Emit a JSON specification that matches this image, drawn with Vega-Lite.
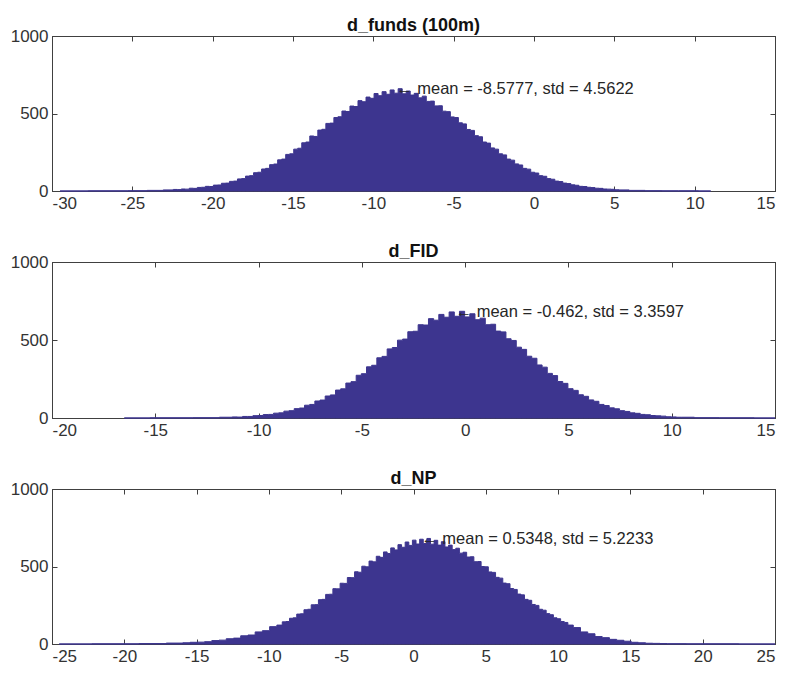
{
  "$schema": "https://vega.github.io/schema/vega-lite/v6.json",
  "padding": {"left": 9, "top": 16, "right": 0, "bottom": 0},
  "spacing": 30,
  "background": "white",
  "config": {
    "view": {"stroke": "#404040", "strokeWidth": 1},
    "axis": {"grid": false, "domainColor": "#404040", "tickColor": "#404040", "tickSize": -5, "labelFont": "Liberation Sans", "labelFontSize": 17, "labelColor": "#333333", "labelPadding": 9,
      "labelExpr": "datum.value < 0 ? '-' + abs(datum.value) : '' + datum.value"},
    "title": {"font": "Liberation Sans", "fontSize": 18, "fontWeight": "bold", "color": "#111111", "offset": -8, "anchor": "middle"}
  },
  "datasets": {
    "f": [{"x":-29.5,"c":0},{"x":-26,"c":1},{"x":-24.58,"c":2},{"x":-23.58,"c":4},
      {"x":-22.58,"c":7},{"x":-22.33,"c":10},{"x":-22.08,"c":9},{"x":-21.83,"c":13},{"x":-21.58,"c":12},{"x":-21.33,"c":18},{"x":-21.08,"c":17},{"x":-20.83,"c":23},{"x":-20.58,"c":24},{"x":-20.33,"c":30},{"x":-20.08,"c":29},{"x":-19.83,"c":38},{"x":-19.58,"c":39},{"x":-19.33,"c":50},{"x":-19.08,"c":51},{"x":-18.83,"c":62},{"x":-18.58,"c":64},{"x":-18.33,"c":78},{"x":-18.08,"c":80},{"x":-17.83,"c":96},{"x":-17.58,"c":99},{"x":-17.33,"c":118},{"x":-17.08,"c":121},{"x":-16.83,"c":142},{"x":-16.58,"c":146},{"x":-16.33,"c":170},{"x":-16.08,"c":174},{"x":-15.83,"c":201},{"x":-15.58,"c":206},{"x":-15.33,"c":236},{"x":-15.08,"c":240},{"x":-14.83,"c":270},{"x":-14.58,"c":276},{"x":-14.33,"c":311},{"x":-14.08,"c":316},{"x":-13.83,"c":355},{"x":-13.58,"c":352},{"x":-13.33,"c":393},{"x":-13.08,"c":398},{"x":-12.83,"c":436},{"x":-12.58,"c":438},{"x":-12.33,"c":474},{"x":-12.08,"c":479},{"x":-11.83,"c":516},{"x":-11.58,"c":513},{"x":-11.33,"c":548},{"x":-11.08,"c":545},{"x":-10.83,"c":583},{"x":-10.58,"c":576},{"x":-10.33,"c":606},{"x":-10.08,"c":598},{"x":-9.83,"c":629},{"x":-9.58,"c":615},{"x":-9.33,"c":641},{"x":-9.08,"c":624},{"x":-8.83,"c":652},{"x":-8.58,"c":631},{"x":-8.33,"c":660},{"x":-8.08,"c":627},{"x":-7.83,"c":645},{"x":-7.58,"c":619},{"x":-7.33,"c":630},{"x":-7.08,"c":601},{"x":-6.83,"c":612},{"x":-6.58,"c":578},{"x":-6.33,"c":580},{"x":-6.08,"c":549},{"x":-5.83,"c":550},{"x":-5.58,"c":515},{"x":-5.33,"c":512},{"x":-5.08,"c":478},{"x":-4.83,"c":474},{"x":-4.58,"c":440},{"x":-4.33,"c":433},{"x":-4.08,"c":397},{"x":-3.83,"c":391},{"x":-3.58,"c":357},{"x":-3.33,"c":350},{"x":-3.08,"c":316},{"x":-2.83,"c":309},{"x":-2.58,"c":278},{"x":-2.33,"c":270},{"x":-2.08,"c":240},{"x":-1.83,"c":233},{"x":-1.58,"c":206},{"x":-1.33,"c":199},{"x":-1.08,"c":175},{"x":-0.83,"c":168},{"x":-0.58,"c":146},{"x":-0.33,"c":141},{"x":-0.08,"c":121},{"x":0.17,"c":116},{"x":0.42,"c":99},{"x":0.67,"c":95},{"x":0.92,"c":80},{"x":1.17,"c":76},{"x":1.42,"c":64},{"x":1.67,"c":61},{"x":1.92,"c":51},{"x":2.17,"c":48},{"x":2.42,"c":40},{"x":2.67,"c":37},{"x":2.92,"c":30},{"x":3.17,"c":29},{"x":3.42,"c":24},{"x":3.67,"c":22},{"x":3.92,"c":18},{"x":4.17,"c":17},{"x":4.42,"c":13},{"x":4.67,"c":12},{"x":4.92,"c":11},{"x":5.17,"c":8},{"x":5.42,"c":7},
      {"x":6.42,"c":4},{"x":7.42,"c":2},{"x":8.5,"c":1},{"x":9.5,"c":1},{"x":11,"c":0}],
    "d": [{"x":-16.5,"c":0},{"x":-14,"c":1},{"x":-12.4,"c":2},
      {"x":-11.4,"c":5},{"x":-11.15,"c":7},{"x":-10.9,"c":6},{"x":-10.65,"c":10},{"x":-10.4,"c":10},{"x":-10.15,"c":15},{"x":-9.9,"c":16},{"x":-9.65,"c":22},{"x":-9.4,"c":23},{"x":-9.15,"c":31},{"x":-8.9,"c":33},{"x":-8.65,"c":44},{"x":-8.4,"c":47},{"x":-8.15,"c":60},{"x":-7.9,"c":64},{"x":-7.65,"c":82},{"x":-7.4,"c":87},{"x":-7.15,"c":109},{"x":-6.9,"c":115},{"x":-6.65,"c":141},{"x":-6.4,"c":148},{"x":-6.15,"c":179},{"x":-5.9,"c":187},{"x":-5.65,"c":224},{"x":-5.4,"c":233},{"x":-5.15,"c":274},{"x":-4.9,"c":284},{"x":-4.65,"c":328},{"x":-4.4,"c":338},{"x":-4.15,"c":386},{"x":-3.9,"c":395},{"x":-3.65,"c":443},{"x":-3.4,"c":452},{"x":-3.15,"c":499},{"x":-2.9,"c":506},{"x":-2.65,"c":553},{"x":-2.4,"c":556},{"x":-2.15,"c":598},{"x":-1.9,"c":596},{"x":-1.65,"c":637},{"x":-1.4,"c":627},{"x":-1.15,"c":664},{"x":-0.9,"c":646},{"x":-0.65,"c":680},{"x":-0.4,"c":652},{"x":-0.15,"c":684},{"x":0.1,"c":648},{"x":0.35,"c":668},{"x":0.6,"c":630},{"x":0.85,"c":640},{"x":1.1,"c":598},{"x":1.35,"c":601},{"x":1.6,"c":557},{"x":1.85,"c":552},{"x":2.1,"c":508},{"x":2.35,"c":497},{"x":2.6,"c":454},{"x":2.85,"c":440},{"x":3.1,"c":396},{"x":3.35,"c":383},{"x":3.6,"c":340},{"x":3.85,"c":326},{"x":4.1,"c":286},{"x":4.35,"c":272},{"x":4.6,"c":234},{"x":4.85,"c":222},{"x":5.1,"c":188},{"x":5.35,"c":177},{"x":5.6,"c":149},{"x":5.85,"c":139},{"x":6.1,"c":116},{"x":6.35,"c":107},{"x":6.6,"c":87},{"x":6.85,"c":80},{"x":7.1,"c":65},{"x":7.35,"c":59},{"x":7.6,"c":47},{"x":7.85,"c":42},{"x":8.1,"c":33},{"x":8.35,"c":30},{"x":8.6,"c":23},{"x":8.85,"c":21},{"x":9.1,"c":16},{"x":9.35,"c":14},{"x":9.6,"c":12},{"x":9.85,"c":8},{"x":10.1,"c":7},{"x":10.35,"c":5},{"x":10.6,"c":5},
      {"x":11.6,"c":2},{"x":13,"c":1},{"x":15,"c":0}],
    "n": [{"x":-24.5,"c":0},{"x":-20,"c":1},{"x":-18,"c":3},
      {"x":-16.2,"c":6},{"x":-15.7,"c":8},{"x":-15.2,"c":11},{"x":-14.7,"c":12},{"x":-14.2,"c":15},{"x":-13.7,"c":22},{"x":-13.2,"c":25},{"x":-12.7,"c":34},{"x":-12.2,"c":38},{"x":-11.7,"c":53},{"x":-11.2,"c":58},{"x":-10.7,"c":78},{"x":-10.2,"c":86},{"x":-9.7,"c":112},
      {"x":-9.2,"c":122},{"x":-8.95,"c":143},{"x":-8.7,"c":145},{"x":-8.45,"c":166},{"x":-8.2,"c":169},{"x":-7.95,"c":193},{"x":-7.7,"c":195},{"x":-7.45,"c":221},{"x":-7.2,"c":224},{"x":-6.95,"c":253},{"x":-6.7,"c":254},{"x":-6.45,"c":286},{"x":-6.2,"c":288},{"x":-5.95,"c":320},{"x":-5.7,"c":321},{"x":-5.45,"c":357},{"x":-5.2,"c":356},{"x":-4.95,"c":392},{"x":-4.7,"c":391},{"x":-4.45,"c":429},{"x":-4.2,"c":428},{"x":-3.95,"c":466},{"x":-3.7,"c":463},{"x":-3.45,"c":502},{"x":-3.2,"c":498},{"x":-2.95,"c":535},{"x":-2.7,"c":530},{"x":-2.45,"c":566},{"x":-2.2,"c":559},{"x":-1.95,"c":594},{"x":-1.7,"c":584},{"x":-1.45,"c":620},{"x":-1.2,"c":607},{"x":-0.95,"c":641},{"x":-0.7,"c":624},{"x":-0.45,"c":658},{"x":-0.2,"c":636},{"x":0.05,"c":670},{"x":0.3,"c":645},{"x":0.55,"c":676},{"x":0.8,"c":648},{"x":1.05,"c":681},{"x":1.3,"c":644},{"x":1.55,"c":669},{"x":1.8,"c":638},{"x":2.05,"c":660},{"x":2.3,"c":626},{"x":2.55,"c":638},{"x":2.8,"c":609},{"x":3.05,"c":618},{"x":3.3,"c":586},{"x":3.55,"c":592},{"x":3.8,"c":561},{"x":4.05,"c":563},{"x":4.3,"c":531},{"x":4.55,"c":532},{"x":4.8,"c":500},{"x":5.05,"c":498},{"x":5.3,"c":465},{"x":5.55,"c":462},{"x":5.8,"c":430},{"x":6.05,"c":425},{"x":6.3,"c":393},{"x":6.55,"c":389},{"x":6.8,"c":358},{"x":7.05,"c":352},{"x":7.3,"c":322},{"x":7.55,"c":317},{"x":7.8,"c":288},{"x":8.05,"c":282},{"x":8.3,"c":255},{"x":8.55,"c":249},{"x":8.8,"c":224},{"x":9.05,"c":218},{"x":9.3,"c":196},{"x":9.55,"c":189},{"x":9.8,"c":169},{"x":10.05,"c":163},{"x":10.3,"c":145},{"x":10.55,"c":139},{"x":10.8,"c":122},
      {"x":11.3,"c":106},{"x":11.8,"c":78},{"x":12.3,"c":66},{"x":12.8,"c":48},{"x":13.3,"c":41},{"x":13.8,"c":30},{"x":14.3,"c":24},{"x":14.8,"c":18},{"x":15.3,"c":11},{"x":15.8,"c":8},{"x":16.3,"c":5},{"x":16.8,"c":4},{"x":17.3,"c":3},{"x":17.8,"c":2},{"x":20,"c":1},{"x":25,"c":0}]
  },
  "vconcat": [
    {
      "width": 723, "height": 155,
      "title": "d_funds (100m)",
      "resolve": {"axis": {"x": "independent", "y": "independent"}},
      "layer": [
        {"data": {"name": "f"},
         "mark": {"type": "area", "interpolate": "step", "color": "#3d358f", "stroke": "#3d358f", "strokeWidth": 1},
         "encoding": {
           "x": {"field": "x", "type": "quantitative", "scale": {"domain": [-30, 15], "nice": false}, "axis": {"title": null, "orient": "bottom", "values": [-30,-25,-20,-15,-10,-5,0,5,10,15]}},
           "y": {"field": "c", "type": "quantitative", "scale": {"domain": [0, 1000], "nice": false}, "axis": {"title": null, "orient": "left", "values": [0,500,1000]}}}},
        {"data": {"values": [{"x": -8.5777, "c": 658, "t": "← mean = -8.5777, std = 4.5622"}]},
         "mark": {"type": "text", "align": "left", "baseline": "middle", "font": "Liberation Sans", "fontSize": 16.5, "color": "#262626"},
         "encoding": {
           "x": {"field": "x", "type": "quantitative", "scale": {"domain": [-30, 15], "nice": false}, "axis": {"title": null, "orient": "top", "labels": false, "values": [-30,-25,-20,-15,-10,-5,0,5,10,15]}},
           "y": {"field": "c", "type": "quantitative", "scale": {"domain": [0, 1000], "nice": false}, "axis": {"title": null, "orient": "right", "labels": false, "values": [0,500,1000]}},
           "text": {"field": "t"}}}
      ]
    },
    {
      "width": 723, "height": 156,
      "title": "d_FID",
      "resolve": {"axis": {"x": "independent", "y": "independent"}},
      "layer": [
        {"data": {"name": "d"},
         "mark": {"type": "area", "interpolate": "step", "color": "#3d358f", "stroke": "#3d358f", "strokeWidth": 1},
         "encoding": {
           "x": {"field": "x", "type": "quantitative", "scale": {"domain": [-20, 15], "nice": false}, "axis": {"title": null, "orient": "bottom", "values": [-20,-15,-10,-5,0,5,10,15]}},
           "y": {"field": "c", "type": "quantitative", "scale": {"domain": [0, 1000], "nice": false}, "axis": {"title": null, "orient": "left", "values": [0,500,1000]}}}},
        {"data": {"values": [{"x": -0.462, "c": 680, "t": "← mean = -0.462, std = 3.3597"}]},
         "mark": {"type": "text", "align": "left", "baseline": "middle", "font": "Liberation Sans", "fontSize": 16.5, "color": "#262626"},
         "encoding": {
           "x": {"field": "x", "type": "quantitative", "scale": {"domain": [-20, 15], "nice": false}, "axis": {"title": null, "orient": "top", "labels": false, "values": [-20,-15,-10,-5,0,5,10,15]}},
           "y": {"field": "c", "type": "quantitative", "scale": {"domain": [0, 1000], "nice": false}, "axis": {"title": null, "orient": "right", "labels": false, "values": [0,500,1000]}},
           "text": {"field": "t"}}}
      ]
    },
    {
      "width": 723, "height": 155,
      "title": "d_NP",
      "resolve": {"axis": {"x": "independent", "y": "independent"}},
      "layer": [
        {"data": {"name": "n"},
         "mark": {"type": "area", "interpolate": "step", "color": "#3d358f", "stroke": "#3d358f", "strokeWidth": 1},
         "encoding": {
           "x": {"field": "x", "type": "quantitative", "scale": {"domain": [-25, 25], "nice": false}, "axis": {"title": null, "orient": "bottom", "values": [-25,-20,-15,-10,-5,0,5,10,15,20,25]}},
           "y": {"field": "c", "type": "quantitative", "scale": {"domain": [0, 1000], "nice": false}, "axis": {"title": null, "orient": "left", "values": [0,500,1000]}}}},
        {"data": {"values": [{"x": 0.5348, "c": 677, "t": "← mean = 0.5348, std = 5.2233"}]},
         "mark": {"type": "text", "align": "left", "baseline": "middle", "font": "Liberation Sans", "fontSize": 16.5, "color": "#262626"},
         "encoding": {
           "x": {"field": "x", "type": "quantitative", "scale": {"domain": [-25, 25], "nice": false}, "axis": {"title": null, "orient": "top", "labels": false, "values": [-25,-20,-15,-10,-5,0,5,10,15,20,25]}},
           "y": {"field": "c", "type": "quantitative", "scale": {"domain": [0, 1000], "nice": false}, "axis": {"title": null, "orient": "right", "labels": false, "values": [0,500,1000]}},
           "text": {"field": "t"}}}
      ]
    }
  ]
}
